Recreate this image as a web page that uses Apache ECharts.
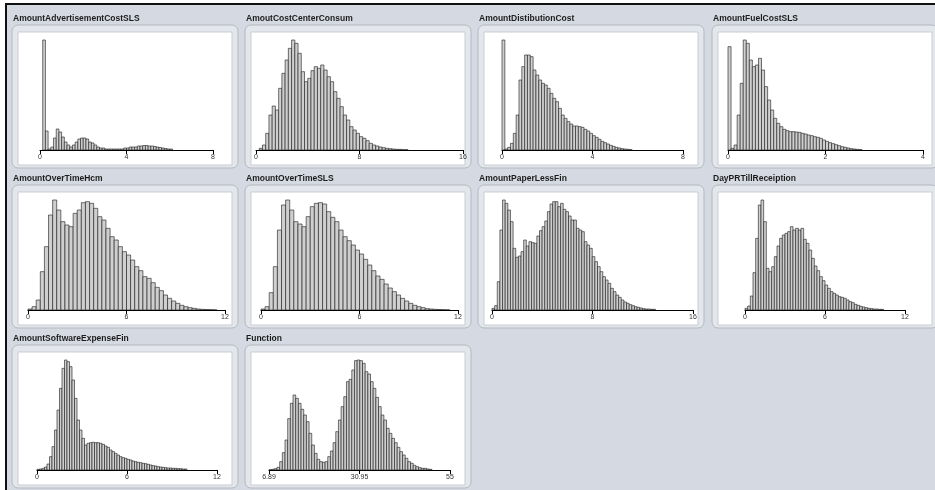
<!DOCTYPE html>
<html><head><meta charset="utf-8">
<script src="https://cdn.jsdelivr.net/npm/echarts@6/dist/echarts.min.js"></script>
<style>
html,body{margin:0;padding:0;background:#fff;}
#frame{position:absolute;left:5px;top:3px;width:930px;height:487px;border-top:2px solid #111;border-left:2px solid #111;box-sizing:border-box;background:#d5dae2;}
#c{position:absolute;left:0;top:0;width:935px;height:490px;}
</style></head>
<body>
<div id="frame"></div>
<div id="c"></div>
<script>
// ---- data ----
const titles = ['AmountAdvertisementCostSLS','AmoutCostCenterConsum','AmountDistibutionCost','AmountFuelCostSLS',
  'AmountOverTimeHcm','AmountOverTimeSLS','AmountPaperLessFin','DayPRTillReceiption',
  'AmountSoftwareExpenseFin','Function'];
const tickValues = [[0,4,8],[0,8,16],[0,4,8],[0,2,4],[0,6,12],[0,6,12],[0,8,16],[0,6,12],[0,6,12],[6.89,30.95,55]];
const tickLabels = [['0','4','8'],['0','8','16'],['0','4','8'],['0','2','4'],['0','6','12'],['0','6','12'],['0','8','16'],['0','6','12'],['0','6','12'],['6.89','30.95','55']];
const binStarts = [0,0,0,0,0,0,0,0,0,6.89];
const binWidths = [0.125,0.25,0.125,0.0625,0.25,0.25,0.21,0.2,1/6,0.71];

const countsAdvertisement = [0,110,19,1,3,12,21,18,13,8,5,3,5,8,11,12,12,11,8,7,5,3,2,2,1,1,1,1,1,1,1,2,2,3,3,3,4,4,4.5,4.5,4,4,3.5,3,2.5,2,1.5,1,1];
const countsCostCenter = [0,5,15,50,105,132,120,185,230,270,305,330,320,290,235,205,215,238,250,245,255,240,220,205,175,155,130,105,90,70,60,50,40,35,28,20,15,12,9,7,5,4,3,2,2,1,1];
const countsDistribution = [330,3,8,20,50,105,210,250,285,285,280,240,225,210,200,195,185,170,155,145,125,105,95,85,78,72,72,70,68,62,57,50,43,38,32,26,22,18,14,11,8,6,4,3,2,1];
const countsFuel = [310,5,15,105,200,330,320,270,250,255,275,240,190,150,120,95,80,70,62,58,55,55,54,53,50,48,45,43,40,38,35,30,26,22,19,16,13,10,8,6,4,3,2,1];
const countsOverTimeHcm = [3,10,30,115,190,285,330,300,265,255,250,290,300,322,325,320,305,280,270,245,220,210,190,175,165,150,130,118,100,95,82,68,58,45,35,27,20,14,10,7,5,3,2,1.5,1,0.5];
const countsOverTimeSLS = [3,10,52,130,240,315,330,300,265,258,250,280,310,320,322,318,295,278,265,240,220,208,195,180,168,152,135,118,102,92,78,66,55,45,35,27,20,14,10,7,4,3,2,1.5,1,0.5];
const countsPaperLess = [5,13,85,240,330,320,300,265,185,158,162,175,210,192,205,202,200,222,238,250,267,295,318,325,325,310,320,302,295,282,270,270,245,240,235,205,195,185,160,145,130,115,100,90,80,65,55,45,38,30,24,20,16,13,10,8,6,4,3,3,2,2];
const countsDayPR = [5,12,42,112,215,315,330,265,125,115,130,160,192,215,225,230,235,250,240,245,240,245,212,200,180,155,132,118,100,88,75,65,55,50,45,40,38,35,30,25,22,17,14,11,9,7,5,4,3,3,2,2];
const countsSoftware = [2,3,5,9,18,40,70,120,180,245,305,330,325,310,270,215,150,120,95,75,80,82,83,82,82,80,77,72,68,60,55,50,45,40,37,35,32,30,27,25,23,22,20,19,17,15,13,12,10,9,8,7,6,6,5,5,4,4,3,3];
const countsFunction = [1,2,4,8,25,52,90,154,200,225,215,200,182,165,145,110,75,50,32,25,23,25,40,57,82,115,150,190,220,265,272,300,328,330,328,320,295,288,265,245,218,190,165,150,125,110,95,82,68,55,45,35,25,20,14,10,7,5,5,3,2];

const allCounts = [countsAdvertisement,countsCostCenter,countsDistribution,countsFuel,countsOverTimeHcm,
  countsOverTimeSLS,countsPaperLess,countsDayPR,countsSoftware,countsFunction];

// ---- layout ----
const colX = [12,245,478,712];
const rowY = [25,185,345];
const axisPx = [[40,213],[256,463],[502,683],[728,923],[28,225],[261,458],[492,693],[745,905],[37,217],[269,450]];

const graphics = [];
const grids = [], xAxes = [], yAxes = [], series = [];
titles.forEach((t,i)=>{
  const col = i%4, row = Math.floor(i/4);
  const bx = colX[col], by = rowY[row];
  graphics.push({type:'rect', z:0, shape:{x:bx,y:by,width:226,height:143,r:6},
    style:{fill:'#e3e6eb',stroke:'#b3b8c0',lineWidth:1}});
  graphics.push({type:'rect', z:0, shape:{x:bx+6,y:by+7,width:214,height:133},
    style:{fill:'#ffffff',stroke:'#c9cdd3',lineWidth:1}});
  graphics.push({type:'text', z:1, x:bx+1, y:by-6,
    style:{text:t,fill:'#1c1c1c',font:'bold 8.5px "Liberation Sans", Arial, sans-serif',verticalAlign:'middle'}});
  const [l,r] = axisPx[i];
  grids.push({left:l, top:by+15, width:r-l, height:110});
  const tv = tickValues[i], tl = tickLabels[i];
  xAxes.push({type:'value', gridIndex:i, min:tv[0], max:tv[2], z:5,
    axisLine:{show:true,lineStyle:{color:'#000',width:1}},
    axisTick:{show:true,customValues:tv,length:4,lineStyle:{color:'#000',width:1}},
    axisLabel:{show:true,customValues:tv,fontSize:7,color:'#333',margin:4,
      fontFamily:'"Liberation Sans", Arial, sans-serif',
      formatter:(v)=>{const k=tv.findIndex(x=>Math.abs(x-v)<1e-6);return k>=0?tl[k]:'';}},
    splitLine:{show:false}});
  const counts = allCounts[i];
  yAxes.push({type:'value', gridIndex:i, min:0, max:Math.max(...counts), show:false});
  const s = binStarts[i], w = binWidths[i];
  series.push({type:'custom', xAxisIndex:i, yAxisIndex:i, z:4,
    data: counts.map((c,j)=>[s+j*w, s+(j+1)*w, c]),
    encode:{x:[0,1], y:2},
    renderItem:(params, api)=>{
      const h = api.value(2);
      if (!(h>0)) return null;
      const p0 = api.coord([api.value(0),0]);
      const p1 = api.coord([api.value(1),h]);
      return {type:'rect', shape:{x:p0[0], y:p1[1], width:p1[0]-p0[0], height:p0[1]-p1[1]},
        style:{fill:'#cfcfcf', stroke:'#1a1a1a', lineWidth:0.6}};
    }});
});

const chart = echarts.init(document.getElementById('c'), null, {renderer:'canvas'});
chart.setOption({
  animation:false,
  backgroundColor:'transparent',
  graphic:{elements:graphics},
  grid:grids, xAxis:xAxes, yAxis:yAxes, series:series
});
</script>
</body></html>
